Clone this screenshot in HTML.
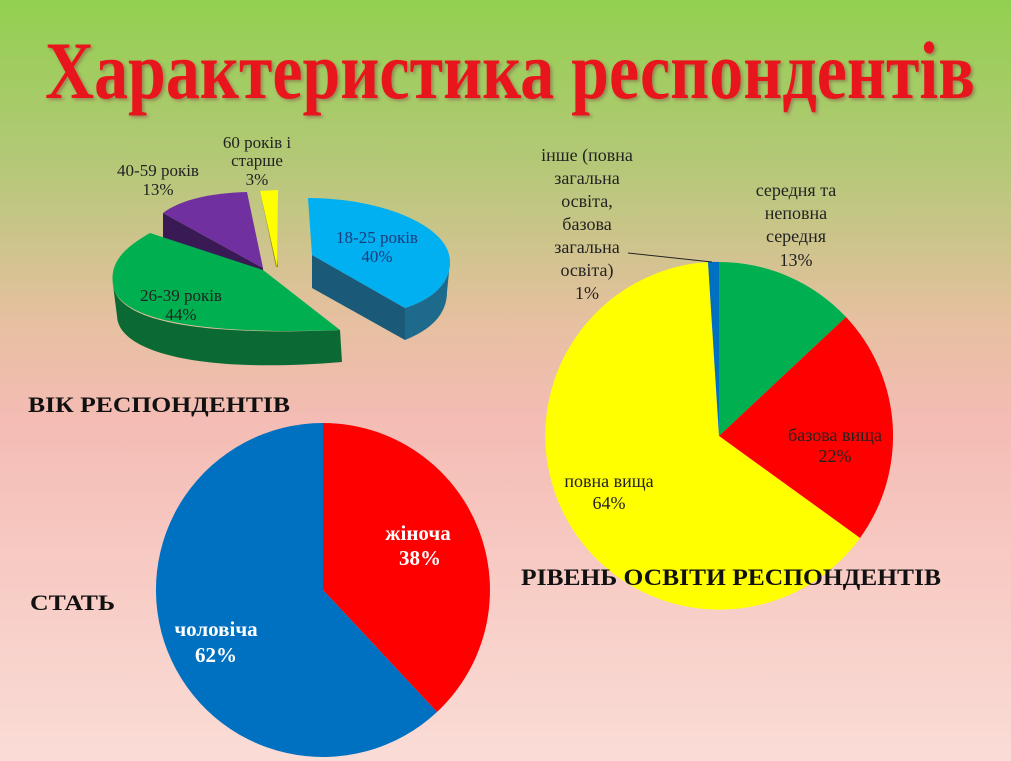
<!DOCTYPE html>
<html><head><meta charset="utf-8"><style>
html,body{margin:0;padding:0}
body{width:1011px;height:761px;overflow:hidden;background:linear-gradient(180deg,#92d050 0%,#b5c878 22%,#e6c0a0 42%,#f4bcb4 55%,#f7cbc4 75%,#fadcd6 100%);}
svg{display:block}
</style></head><body>
<svg width="1011" height="761" viewBox="0 0 1011 761" font-family="Liberation Serif, serif">
<defs>
<filter id="sh"><feDropShadow dx="2" dy="2" stdDeviation="1.5" flood-color="#804040" flood-opacity="0.5"/></filter>
</defs>
<text x="45" y="98" font-size="82" font-weight="bold" fill="#e8151a" textLength="930" lengthAdjust="spacingAndGlyphs" filter="url(#sh)">Характеристика респондентів</text>

<!-- 3D pie -->
<g>
<path d="M163,213 L263,268 L263,292 L163,238 Z" fill="#3a1a55"/>
<path d="M263,268 L247,192 C210,193 180,200 163,213 Z" fill="#7030a0"/>
<path d="M260,191 L276,267 L278,267 L270,195 Z" fill="#8a8a10"/>
<path d="M260,191 L278,190 L277,267 Z" fill="#ffff00"/>
<path d="M113,285 C118,322 200,336 340,330 L342,362 C200,374 118,352 117,316 Z" fill="#0b6a34"/>
<path d="M263,270 L150,233 C120,250 110,265 113,285 C118,320 200,335 340,330 Z" fill="#00b050"/>
<path d="M312,255 L405,308 L405,340 L312,288 Z" fill="#1a5a78"/>
<path d="M450,262 C450,285 430,300 405,308 L405,340 C430,330 447,315 447,292 Z" fill="#1e6a8c"/>
<path d="M312,255 L308,198 C380,198 450,225 450,262 C450,285 430,300 405,308 Z" fill="#00b0f0"/>
</g>
<g font-size="17" fill="#222" text-anchor="middle">
<text x="257" y="148">60 років і</text><text x="257" y="166">старше</text><text x="257" y="185">3%</text>
<text x="158" y="176">40-59 років</text><text x="158" y="195">13%</text>
<text x="377" y="243" fill="#1f3a7a">18-25 років</text><text x="377" y="262" fill="#1f3a7a">40%</text>
<text x="181" y="301">26-39 років</text><text x="181" y="320">44%</text>
</g>
<text x="28" y="412" font-size="22" font-weight="bold" fill="#111" textLength="262" lengthAdjust="spacingAndGlyphs">ВІК РЕСПОНДЕНТІВ</text>

<!-- gender pie -->
<path d="M323,590 L323,423 A167,167 0 0 1 437,712 Z" fill="#ff0000"/>
<path d="M323,590 L437,712 A167,167 0 1 1 323,423 Z" fill="#0070c0"/>
<g font-size="21" font-weight="bold" fill="#fff" text-anchor="middle">
<text x="418" y="540">жіноча</text><text x="420" y="565">38%</text>
<text x="216" y="636">чоловіча</text><text x="216" y="662">62%</text>
</g>
<text x="30" y="610" font-size="22" font-weight="bold" fill="#111" textLength="85" lengthAdjust="spacingAndGlyphs">СТАТЬ</text>

<!-- education pie -->
<path d="M719,436 L719,262 A174,174 0 0 1 846,317 Z" fill="#00b050"/>
<path d="M719,436 L846,317 A174,174 0 0 1 860,538 Z" fill="#ff0000"/>
<path d="M719,436 L860,538 A174,174 0 1 1 708,262 Z" fill="#ffff00"/>
<path d="M719,436 L708,262 A174,174 0 0 1 719,262 Z" fill="#0070c0"/>
<line x1="628" y1="253" x2="712" y2="262" stroke="#222" stroke-width="1"/>
<g font-size="18" fill="#222" text-anchor="middle">
<text x="587" y="161">інше (повна</text><text x="587" y="184">загальна</text><text x="587" y="207">освіта,</text><text x="587" y="230">базова</text><text x="587" y="253">загальна</text><text x="587" y="276">освіта)</text><text x="587" y="299">1%</text>
<text x="796" y="196">середня та</text><text x="796" y="219">неповна</text><text x="796" y="242">середня</text><text x="796" y="266">13%</text>
<text x="835" y="441">базова вища</text><text x="835" y="462">22%</text>
<text x="609" y="487">повна вища</text><text x="609" y="509">64%</text>
</g>
<text x="521" y="585" font-size="23" font-weight="bold" fill="#111" textLength="420" lengthAdjust="spacingAndGlyphs">РІВЕНЬ ОСВІТИ РЕСПОНДЕНТІВ</text>
</svg>
</body></html>
